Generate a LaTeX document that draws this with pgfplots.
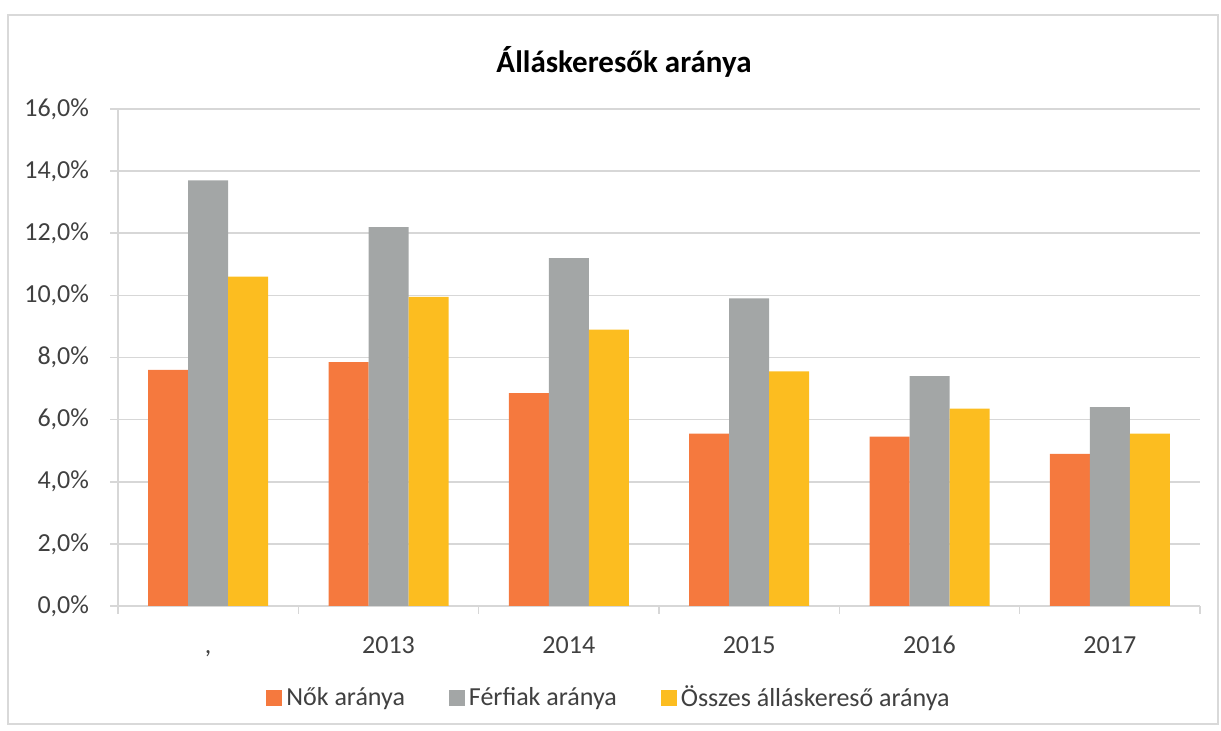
\documentclass[border=0pt]{standalone}
\usepackage{fontspec}
\setmainfont{Carlito}
\usepackage{pgfplots}
\pgfplotsset{compat=1.18}

\definecolor{nok}{RGB}{245,121,62}
\definecolor{ferfi}{RGB}{163,166,166}
\definecolor{osszes}{RGB}{252,189,32}
\definecolor{gridc}{RGB}{215,215,215}

\begin{document}
\fontsize{13}{15}\selectfont
\begin{tikzpicture}[x=1pt,y=1pt]
  \useasboundingbox (0,0) rectangle (610.5,365.5);
  \draw[gray!30, line width=0.8pt] (4,3.5) rectangle (609,358);
  \node[font=\bfseries\fontsize{15.5}{18}\selectfont] at (312,334.5) {Álláskeresők aránya};
  \begin{axis}[
      at={(59pt,62.5pt)}, anchor=south west,
      scale only axis, width=541pt, height=248.5pt,
      ybar=0pt, bar width=20pt,
      xmin=-0.5, xmax=5.5, ymin=0, ymax=16,
      xtick={0,1,2,3,4,5},
      xticklabels={{,},2013,2014,2015,2016,2017},
      minor xtick={-0.5,0.5,1.5,2.5,3.5,4.5,5.5},
      ytick={0,2,...,16},
      yticklabel={\pgfmathprintnumber[fixed,fixed zerofill,precision=1,use comma,assume math mode=true]{\tick}\%},
      axis x line*=bottom, axis y line*=left,
      axis line style={draw=gridc, line width=0.8pt},
      tick align=outside,
      major x tick style={draw=none},
      minor x tick style={draw=gridc, line width=0.8pt},
      y tick style={draw=gridc, line width=0.8pt},
      major tick length=4pt, minor tick length=4pt,
      ymajorgrids, grid style={draw=gridc, line width=0.8pt},
      ticklabel style={font=\fontsize{13}{15}\selectfont, text=black!75},
      xticklabel style={yshift=-6pt, text height=9pt, text depth=3pt},
      yticklabel style={xshift=-6pt},
      legend style={at={(0.4547,-0.185)}, anchor=center, draw=none,
        legend columns=3, font=\fontsize{13}{15}\selectfont, text=black!75,
        /tikz/every even column/.append style={column sep=20pt}},
      legend image code/.code={\fill[#1] (0pt,-4pt) rectangle (8pt,4pt);},
    ]
    % Nők aránya
    \addplot[fill=nok, draw=none] coordinates {
      (0,7.60) (1,7.85) (2,6.85) (3,5.55) (4,5.45) (5,4.90)
    };
    \addlegendentry{Nők aránya}
    % Férfiak aránya
    \addplot[fill=ferfi, draw=none] coordinates {
      (0,13.70) (1,12.20) (2,11.20) (3,9.90) (4,7.40) (5,6.40)
    };
    \addlegendentry{Férfiak aránya}
    % Összes álláskereső aránya
    \addplot[fill=osszes, draw=none] coordinates {
      (0,10.60) (1,9.95) (2,8.90) (3,7.55) (4,6.35) (5,5.55)
    };
    \addlegendentry{Összes álláskereső aránya}
  \end{axis}
\end{tikzpicture}
\end{document}
